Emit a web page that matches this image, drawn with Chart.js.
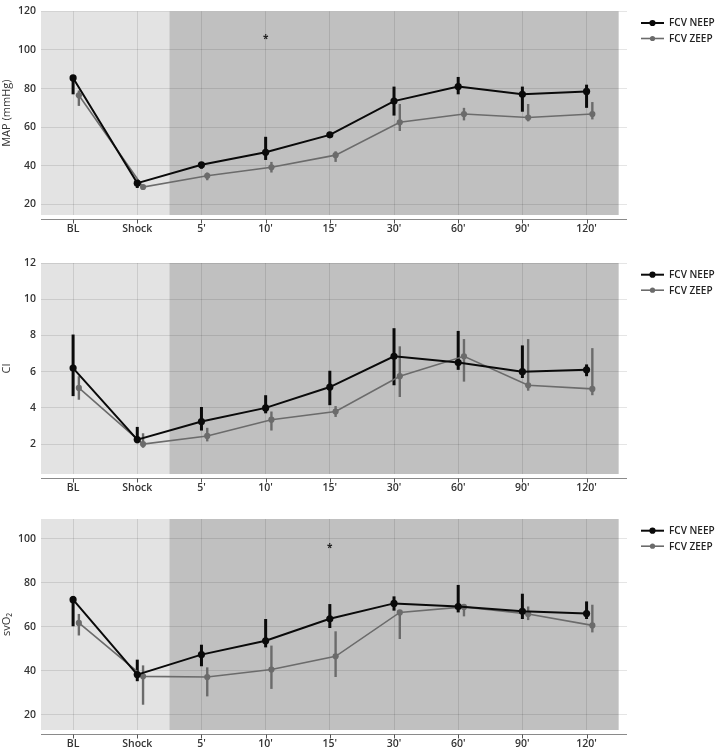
<!DOCTYPE html>
<html>
<head>
<meta charset="utf-8">
<script src="https://cdn.jsdelivr.net/npm/chart.js@4.4.1/dist/chart.umd.min.js"></script>
<style>
  body { margin: 0; background: #fff; }
  canvas { display: block; }
</style>
</head>
<body>
<canvas id="mapChart" width="719" height="250"></canvas>
<canvas id="ciChart" width="719" height="250"></canvas>
<canvas id="svChart" width="719" height="251"></canvas>
<script>
// categories and series
const categories = ['BL', 'Shock', "5'", "10'", "15'", "30'", "60'", "90'", "120'"];
const seriesNames = ['FCV NEEP', 'FCV ZEEP'];

// MAP (mmHg)
const mapNeep   = [85.5, 31, 40.5, 47, 56, 73.5, 81, 77, 78.5];
const mapNeepLo = [77, 28.5, 38.5, 43, 55.5, 66, 77, 68, 70];
const mapNeepHi = [87, 32.5, 41.5, 55, 57, 81, 86, 81, 82];
const mapZeep   = [76.5, 29, 34.8, 39.2, 45.5, 62.5, 66.8, 65, 66.8];
const mapZeepLo = [71, 28, 32.5, 36.5, 42, 58, 63.5, 63, 64];
const mapZeepHi = [79, 30, 36.5, 42, 47.5, 72, 70, 72, 73];
const mapTicks  = [20, 40, 60, 80, 100, 120];
const mapStars  = [[3, 106.5]];

// CI
const ciNeep   = [6.2, 2.25, 3.25, 4.0, 5.15, 6.85, 6.5, 6.0, 6.1];
const ciNeepLo = [4.65, 2.05, 2.75, 3.7, 4.15, 5.25, 6.1, 5.65, 5.75];
const ciNeepHi = [8.05, 2.95, 4.05, 4.7, 6.05, 8.4, 8.25, 7.45, 6.4];
const ciZeep   = [5.1, 2.0, 2.45, 3.35, 3.8, 5.75, 6.85, 5.25, 5.05];
const ciZeepLo = [4.45, 1.8, 2.15, 2.75, 3.5, 4.6, 5.45, 4.95, 4.7];
const ciZeepHi = [5.75, 2.6, 2.9, 3.8, 4.1, 7.4, 7.8, 7.8, 7.3];
const ciTicks  = [2, 4, 6, 8, 10, 12];
const ciStars  = [];

// svO2
const svNeep   = [72.3, 38.2, 47.3, 53.6, 63.6, 70.6, 69.2, 67, 66];
const svNeepLo = [60.2, 35.2, 42, 50.6, 59.4, 67.3, 66.5, 63.5, 63.5];
const svNeepHi = [74, 45, 51.8, 63.5, 70.3, 73.8, 79, 75, 71.5];
const svZeep   = [61.7, 37.4, 37.1, 40.5, 46.5, 66.5, 69, 65.8, 60.6];
const svZeepLo = [56, 24.5, 28.3, 31.7, 37.1, 54.4, 64.7, 63, 57.4];
const svZeepHi = [65.8, 42.4, 41.5, 51.4, 57.9, 67.5, 70.3, 69.2, 70];
const svTicks  = [20, 40, 60, 80, 100];
const svStars  = [[4, 96.5]];

const FONT = "'Open Sans', 'DejaVu Sans', sans-serif";
const NEEP_COLOR = '#0a0a0a';
const ZEEP_COLOR = '#6b6b6b';
const ZEEP_SHIFT = 0.09;

// shaded phases, axis line, error bars, stars and legend
const panelPlugin = {
  id: 'panel',
  beforeDraw(chart) {
    const { ctx, chartArea: a, scales: { x } } = chart;
    const split = x.getPixelForValue(1.5);
    const end = x.getPixelForValue(8.5);
    ctx.save();
    ctx.fillStyle = '#e3e3e3';
    ctx.fillRect(a.left, a.top, split - a.left, a.bottom - a.top);
    ctx.fillStyle = '#c0c0c0';
    ctx.fillRect(split, a.top, end - split, a.bottom - a.top);
    ctx.restore();
  },
  beforeDatasetsDraw(chart) {
    const { ctx, scales: { x, y } } = chart;
    chart.data.datasets.forEach((ds) => {
      ctx.save();
      ctx.strokeStyle = ds.borderColor;
      ctx.lineWidth = ds.barWidth;
      ds.data.forEach((p, i) => {
        const px = x.getPixelForValue(p.x);
        ctx.beginPath();
        ctx.moveTo(px, y.getPixelForValue(ds.lo[i]));
        ctx.lineTo(px, y.getPixelForValue(ds.hi[i]));
        ctx.stroke();
      });
      ctx.restore();
    });
  },
  afterDraw(chart) {
    const { ctx, chartArea: a, scales: { x, y } } = chart;
    const opts = chart.options.plugins.panel;
    ctx.save();
    // x axis line below the plot
    const ay = a.bottom + 4.5;
    ctx.strokeStyle = '#8a8a8a';
    ctx.lineWidth = 1;
    ctx.beginPath();
    ctx.moveTo(a.left, ay);
    ctx.lineTo(a.right, ay);
    ctx.stroke();
    ctx.strokeStyle = '#555';
    categories.forEach((c, i) => {
      const px = Math.round(x.getPixelForValue(i)) + 0.5;
      ctx.beginPath();
      ctx.moveTo(px, ay);
      ctx.lineTo(px, ay + 4);
      ctx.stroke();
    });
    // significance marks
    ctx.fillStyle = '#222';
    ctx.font = 'bold 10px ' + FONT;
    ctx.textAlign = 'center';
    ctx.textBaseline = 'alphabetic';
    opts.stars.forEach(([i, v]) => {
      ctx.fillText('*', x.getPixelForValue(i), y.getPixelForValue(v) + 5);
    });
    // legend
    const lx = a.right + 14;
    ctx.textBaseline = 'middle';
    chart.data.datasets.forEach((ds, k) => {
      const ly = a.top + 11.7 + k * 15.5;
      ctx.strokeStyle = ds.borderColor;
      ctx.lineWidth = ds.borderWidth;
      ctx.beginPath();
      ctx.moveTo(lx, ly);
      ctx.lineTo(lx + 23, ly);
      ctx.stroke();
      ctx.fillStyle = ds.borderColor;
      ctx.beginPath();
      ctx.arc(lx + 11.5, ly, ds.pointRadius - 0.5, 0, Math.PI * 2);
      ctx.fill();
      ctx.fillStyle = '#222';
      ctx.font = '600 10px ' + FONT;
      ctx.textAlign = 'left';
      ctx.fillText(ds.label, lx + 28, ly + 0.5);
    });
    ctx.restore();
  }
};

function makeDataset(label, vals, lo, hi, shift, color, lw, bw, r) {
  return {
    label: label,
    data: vals.map((v, i) => ({ x: i + shift, y: v })),
    lo: lo,
    hi: hi,
    borderColor: color,
    backgroundColor: color,
    borderWidth: lw,
    barWidth: bw,
    pointRadius: r,
    pointBorderWidth: 0,
    pointBackgroundColor: color,
    tension: 0
  };
}

function makePanel(id, title, neep, neepLo, neepHi, zeep, zeepLo, zeepHi, yMin, yMax, yTicks, stars, top, bottom) {
  const canvas = document.getElementById(id);
  const h = canvas.height;
  new Chart(canvas.getContext('2d'), {
    type: 'line',
    data: {
      datasets: [
        makeDataset(seriesNames[0], neep, neepLo, neepHi, 0, NEEP_COLOR, 2, 3, 3.6),
        makeDataset(seriesNames[1], zeep, zeepLo, zeepHi, ZEEP_SHIFT, ZEEP_COLOR, 1.6, 2.4, 3.1)
      ]
    },
    options: {
      responsive: false,
      animation: false,
      layout: { padding: { top: top, right: 92, left: 0, bottom: 0 } },
      plugins: {
        legend: { display: false },
        tooltip: { enabled: false },
        panel: { stars: stars }
      },
      scales: {
        x: {
          type: 'linear',
          min: -0.5,
          max: 8.63,
          afterBuildTicks: (s) => { s.ticks = categories.map((c, i) => ({ value: i })); },
          afterFit: (s) => { s.height = h - bottom; },
          grid: { color: 'rgba(0,0,0,0.1)', drawTicks: false },
          border: { display: false },
          ticks: {
            autoSkip: false,
            maxRotation: 0,
            padding: 8,
            color: '#333',
            font: { family: FONT, size: 10.5, weight: '600' },
            callback: (v) => categories[v]
          }
        },
        y: {
          min: yMin,
          max: yMax,
          afterBuildTicks: (s) => { s.ticks = yTicks.map((v) => ({ value: v })); },
          afterFit: (s) => { s.width = 41; },
          grid: { color: 'rgba(0,0,0,0.1)', drawTicks: false },
          border: { display: false },
          ticks: { padding: 5, color: '#333', font: { family: FONT, size: 10.5, weight: '600' } },
          title: { display: true, text: title, color: '#333', padding: 0, font: { family: FONT, size: 11 } }
        }
      }
    },
    plugins: [panelPlugin]
  });
}

makePanel('mapChart', 'MAP (mmHg)', mapNeep, mapNeepLo, mapNeepHi, mapZeep, mapZeepLo, mapZeepHi,
  14.5, 120, mapTicks, mapStars, 3, 215);
makePanel('ciChart', 'CI', ciNeep, ciNeepLo, ciNeepHi, ciZeep, ciZeepLo, ciZeepHi,
  0.35, 12, ciTicks, ciStars, 13, 224);
makePanel('svChart', 'svO\u2082', svNeep, svNeepLo, svNeepHi, svZeep, svZeepLo, svZeepHi,
  13, 109, svTicks, svStars, 19, 230);
</script>
</body>
</html>
